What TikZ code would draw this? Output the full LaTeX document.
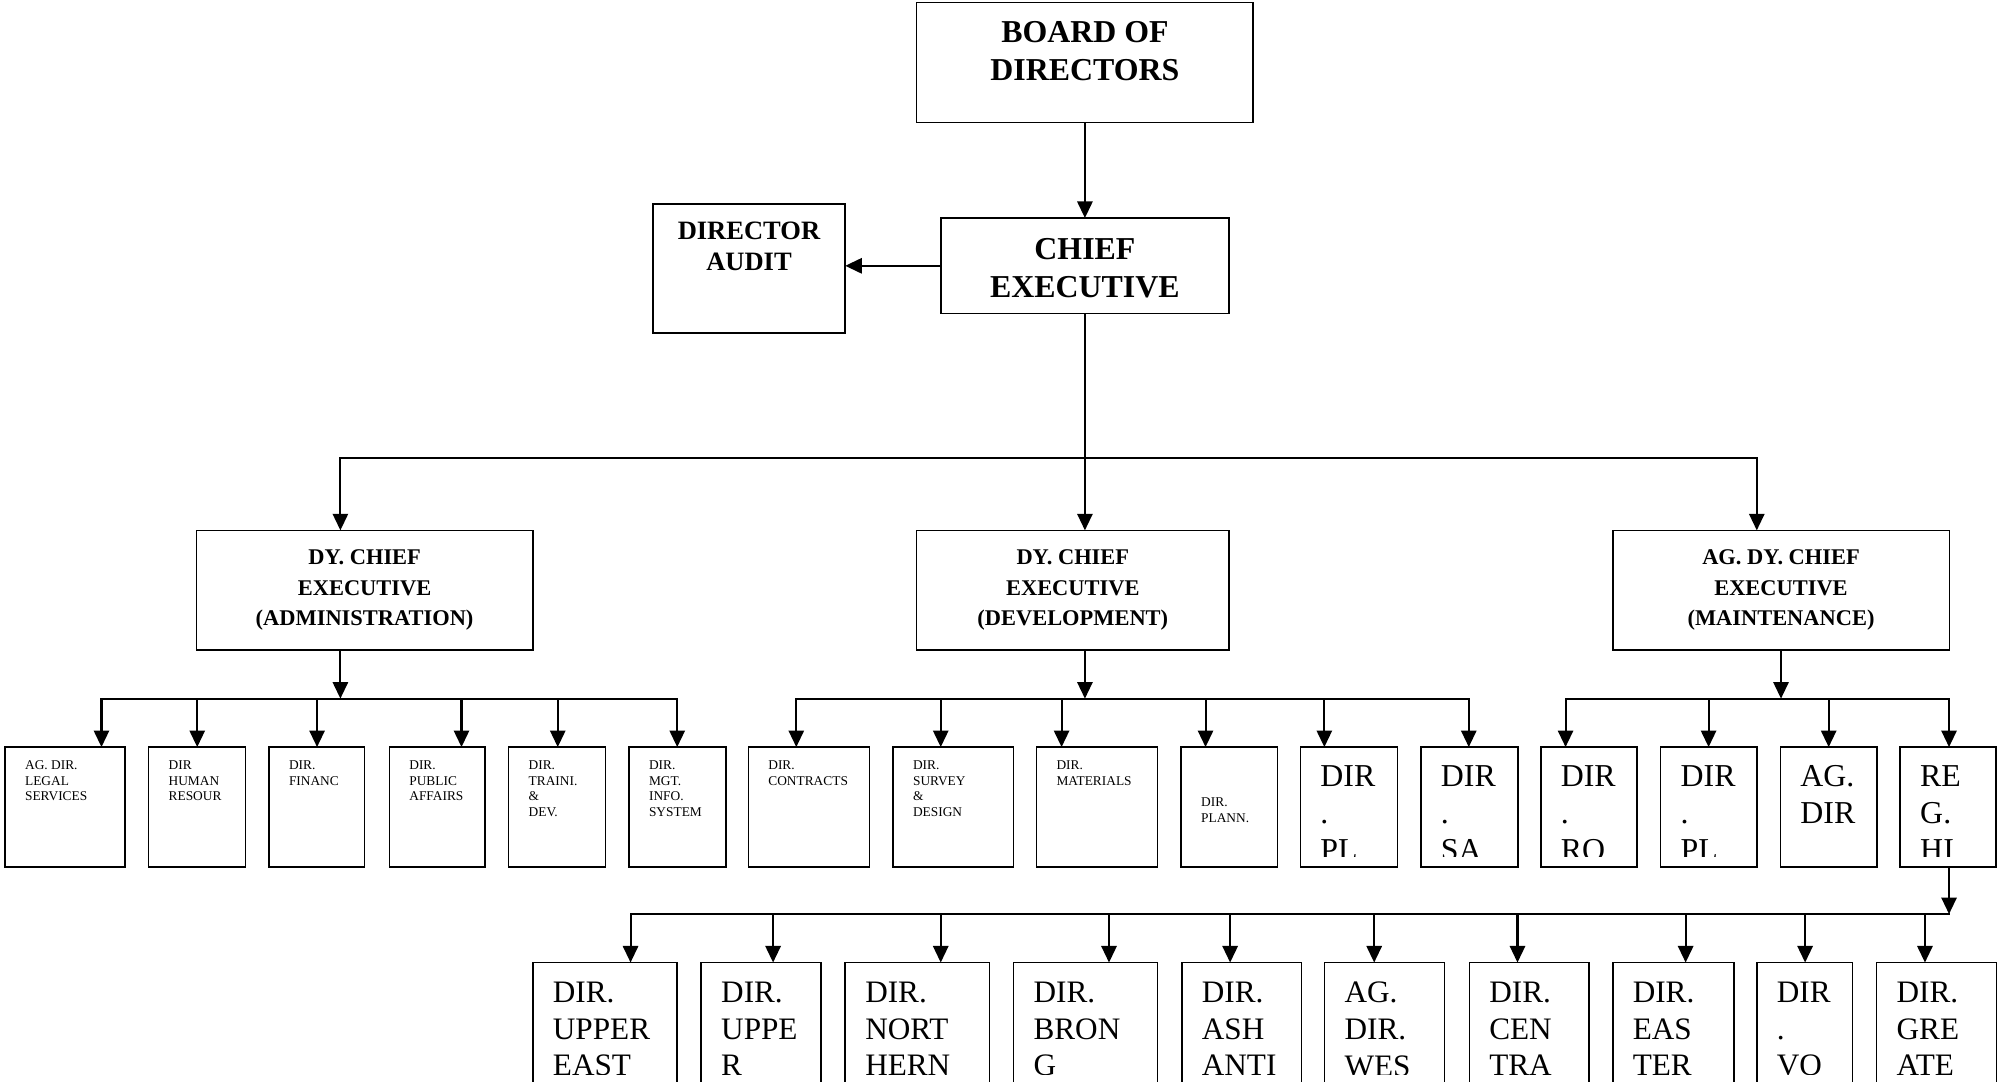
\documentclass[tikz,border=0pt]{standalone}
\usepackage{fontspec}
\setmainfont{Liberation Serif}
\usetikzlibrary{arrows.meta}

\tikzset{
  box/.style={draw, line width=1.2pt, inner sep=0pt, outer sep=0pt, anchor=north west},
  conn/.style={line width=1.6pt, line cap=rect},
  arr/.style={line width=1.6pt, -{Triangle[length=13pt,width=12pt]}},
  head/.style={inner sep=0pt, align=center, anchor=north, font=\bfseries\fontsize{25}{30}\selectfont},
  headm/.style={head, font=\bfseries\fontsize{20.8}{24}\selectfont},
  heads/.style={head, font=\bfseries\fontsize{17.6}{24}\selectfont},
  small/.style={inner sep=0pt, align=left, font=\fontsize{10.5}{12.2}\selectfont},
  big/.style={inner sep=0pt, align=left, font=\fontsize{25}{29}\selectfont},
  reg/.style={inner sep=0pt, align=left, font=\fontsize{24.5}{28.8}\selectfont},
}

% #1 name, #2 left, #3 top, #4 width, #5 height, #6 clip bottom,
% #7 text style, #8 text offset from top, #9 text
\newcommand\txtbox[9]{%
  \node[box, minimum width=#4pt, minimum height=#5pt] (#1) at (#2,#3) {};
  \begin{scope}
    \clip (#2+1,#3+1) rectangle (#2+#4-1,#6);
    \node[#7, anchor=north west] (#1-t) at (#2+15.5,#3+#8) {#9};
  \end{scope}}

\begin{document}
\begin{tikzpicture}[x=1pt,y=-1pt]
\useasboundingbox (0,0) rectangle (1568,848);
\clip (0,0) rectangle (1568,848);

% top management
\node[box, minimum width=264pt, minimum height=94pt] (board) at (719,2) {};
\node[head] (boardT) at (851,16.5) {BOARD OF\\DIRECTORS};
\node[box, minimum width=226pt, minimum height=75pt] (ce) at (738,171) {};
\node[head] (ceT) at (851,186.5) {CHIEF\\EXECUTIVE};
\node[box, minimum width=151pt, minimum height=101pt] (da) at (512,160) {};
\node[headm] (daT) at (587.5,174) {DIRECTOR\\AUDIT};

% deputy chief executives
\node[box, minimum width=264pt, minimum height=94pt] (dyA) at (154,416) {};
\node[heads] (dyAT) at (286,431) {DY. CHIEF\\EXECUTIVE\\(ADMINISTRATION)};
\node[box, minimum width=245pt, minimum height=94pt] (dyD) at (719,416) {};
\node[heads] (dyDT) at (841.5,431) {DY. CHIEF\\EXECUTIVE\\(DEVELOPMENT)};
\node[box, minimum width=264pt, minimum height=94pt] (dyM) at (1265,416) {};
\node[heads] (dyMT) at (1397,431) {AG. DY. CHIEF\\EXECUTIVE\\(MAINTENANCE)};

% administration directorates
\txtbox{a1}{4}{586}{94}{94}{679}{small}{10.5}{AG. DIR.\\LEGAL\\SERVICES}
\txtbox{a2}{116.6}{586}{76}{94}{679}{small}{10.5}{DIR\\HUMAN\\RESOUR}
\txtbox{a3}{211}{586}{75}{94}{679}{small}{10.5}{DIR.\\FINANC}
\txtbox{a4}{305.4}{586}{75}{94}{679}{small}{10.5}{DIR.\\PUBLIC\\AFFAIRS}
\txtbox{a5}{399}{586}{76}{94}{679}{small}{10.5}{DIR.\\TRAINI.\\\&\\DEV.}
\txtbox{a6}{493.4}{586}{76}{94}{679}{small}{10.5}{DIR.\\MGT.\\INFO.\\SYSTEM}

% development directorates
\txtbox{d1}{587}{586}{95}{94}{679}{small}{10.5}{DIR.\\CONTRACTS}
\txtbox{d2}{700.5}{586}{94.5}{94}{679}{small}{10.5}{DIR.\\SURVEY\\\&\\DESIGN}
\txtbox{d3}{813}{586}{95}{94}{679}{small}{10.5}{DIR.\\MATERIALS}
\txtbox{d4}{926.5}{586}{75.5}{94}{679}{small}{39.5}{DIR.\\PLANN.}
\txtbox{d5}{1020}{586}{76}{94}{672}{big}{14.5}{DIR\\.\\PL}
\txtbox{d6}{1114.5}{586}{76}{94}{672}{big}{14.5}{DIR\\.\\SA}

% maintenance directorates
\txtbox{m1}{1208.6}{586}{75.5}{94}{672}{big}{14.5}{DIR\\.\\RO}
\txtbox{m2}{1302.6}{586}{75.4}{94}{672}{big}{14.5}{DIR\\.\\PL}
\txtbox{m3}{1396.5}{586}{75.7}{94}{672}{big}{14.5}{AG.\\DIR}
\txtbox{m4}{1490.5}{586}{75.3}{94}{672}{big}{14.5}{RE\\G.\\HI}

% regional directorates
\txtbox{r1}{418}{755}{113}{120}{843}{reg}{15}{DIR.\\UPPER\\EAST}
\txtbox{r2}{550}{755}{94}{120}{843}{reg}{15}{DIR.\\UPPE\\R}
\txtbox{r3}{663}{755}{113}{120}{843}{reg}{15}{DIR.\\NORT\\HERN}
\txtbox{r4}{795}{755}{113}{120}{843}{reg}{15}{DIR.\\BRON\\G}
\txtbox{r5}{927}{755}{94}{120}{843}{reg}{15}{DIR.\\ASH\\ANTI}
\txtbox{r6}{1039}{755}{94}{120}{843}{reg}{15}{AG.\\DIR.\\WES}
\txtbox{r7}{1152.5}{755}{94}{120}{843}{reg}{15}{DIR.\\CEN\\TRA}
\txtbox{r8}{1265}{755}{95}{120}{843}{reg}{15}{DIR.\\EAS\\TER}
\txtbox{r9}{1378}{755}{75}{120}{843}{reg}{15}{DIR\\.\\VO}
\txtbox{r10}{1472}{755}{94}{120}{843}{reg}{15}{DIR.\\GRE\\ATE}

% board -> chief executive -> audit
\draw[arr] (board.south) -- (ce.north);
\draw[arr] (ce.west) -- (ce.west -| da.east);

% chief executive -> deputies
\coordinate (busL) at (267,359);
\coordinate (busR) at (1378,359);
\coordinate (busC) at (ce.south |- busL);
\draw[conn] (ce.south) -- (busC);
\draw[conn] (busL) -- (busR);
\draw[arr] (busL) -- (busL |- dyA.north);
\draw[arr] (busC) -- (busC |- dyD.north);
\draw[arr] (busR) -- (busR |- dyM.north);

% administration branch
\coordinate (aB) at (267,548);
\draw[arr] (aB |- dyA.south) -- (aB);
\foreach \n/\x in {a1/79.6,a2/154.7,a3/248.7,a4/362,a5/437.5,a6/531.2}{
  \coordinate (\n-in) at (\x,548);
  \draw[arr] (\n-in) -- (\n-in |- \n.north);
}
\draw[conn] (a1-in) -- (a6-in);

% development branch
\coordinate (dB) at (851,548);
\draw[arr] (dB |- dyD.south) -- (dB);
\foreach \n/\x in {d1/624.6,d2/737.9,d3/832.7,d4/945.6,d5/1038.8,d6/1152.1}{
  \coordinate (\n-in) at (\x,548);
  \draw[arr] (\n-in) -- (\n-in |- \n.north);
}
\draw[conn] (d1-in) -- (d6-in);

% maintenance branch
\coordinate (mB) at (1397,548);
\draw[arr] (mB |- dyM.south) -- (mB);
\foreach \n/\x in {m1/1228,m2/1340.2,m3/1434.4,m4/1528.8}{
  \coordinate (\n-in) at (\x,548);
  \draw[arr] (\n-in) -- (\n-in |- \n.north);
}
\draw[conn] (m1-in) -- (m4-in);

% regional branch
\coordinate (rB) at (1528.8,717);
\draw[arr] (rB |- m4.south) -- (rB);
\foreach \n/\x in {r1/494.6,r2/606.4,r3/737.9,r4/869.9,r5/964.9,r6/1077.9,r7/1190.3,r8/1322.2,r9/1415.9,r10/1509.9}{
  \coordinate (\n-in) at (\x,717);
  \draw[arr] (\n-in) -- (\n-in |- \n.north);
}
\draw[conn] (r1-in) -- (rB);
\end{tikzpicture}
\end{document}
